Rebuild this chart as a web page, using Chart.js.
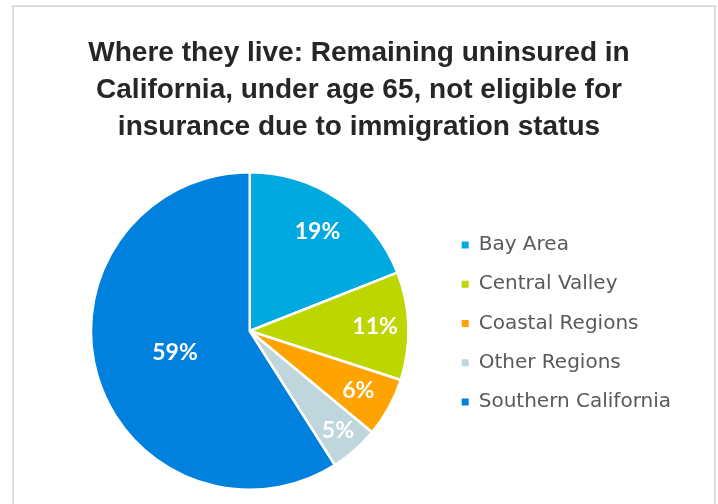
<!DOCTYPE html>
<html>
<head>
<meta charset="utf-8">
<script src="https://cdn.jsdelivr.net/npm/chart.js@4.4.1/dist/chart.umd.min.js"></script>
<style>
  html, body { margin: 0; padding: 0; background: #fff; }
  body { width: 718px; height: 504px; position: relative; overflow: hidden; }
  #frame {
    position: absolute; left: 12px; top: 5px; width: 704px; height: 520px;
    border: 2px solid #dcdcdc; box-sizing: border-box;
  }
  #wrap { position: absolute; left: 0; top: 0; width: 718px; height: 504px; }
</style>
</head>
<body>
<div id="frame"></div>
<div id="wrap"><canvas id="regionChart"></canvas></div>
<script>
// Dados do gráfico
const regions = ['Bay Area', 'Central Valley', 'Coastal Regions', 'Other Regions', 'Southern California'];
const shares = [19, 11, 6, 5, 59];
const sliceColors = ['#00a9e0', '#bed600', '#ffa300', '#bfd6dc', '#0081de'];
const titleLines = [
    'Where they live: Remaining uninsured in',
    'California, under age 65, not eligible for',
    'insurance due to immigration status'
];

// distância do rótulo ao centro (fração do raio)
const labelRadius = [0.76, 0.79, 0.78, 0.84, 0.49];

// Rótulos de porcentagem dentro das fatias
const sliceLabels = {
    id: 'sliceLabels',
    afterDatasetsDraw(chart) {
        const ctx = chart.ctx;
        const meta = chart.getDatasetMeta(0);
        ctx.save();
        ctx.fillStyle = '#ffffff';
        ctx.font = 'bold 23px Lato, "Open Sans", sans-serif';
        ctx.textAlign = 'center';
        ctx.textBaseline = 'middle';
        meta.data.forEach((arc, i) => {
            const p = arc.getProps(['x', 'y', 'startAngle', 'endAngle', 'outerRadius'], true);
            const mid = (p.startAngle + p.endAngle) / 2;
            const r = p.outerRadius * labelRadius[i];
            ctx.fillText(shares[i] + '%', p.x + Math.cos(mid) * r, p.y + Math.sin(mid) * r);
        });
        ctx.restore();
    }
};

// título centrado na largura toda (não só na área do layout)
const centerTitle = {
    id: 'centerTitle',
    afterLayout(chart) {
        const t = chart.titleBlock;
        if (t) {
            t.left = 0;
            t.right = chart.width;
        }
    }
};

const ctx = document.getElementById('regionChart');
new Chart(ctx, {
    type: 'pie',
    data: {
        labels: regions,
        datasets: [{
            data: shares,
            backgroundColor: sliceColors,
            borderColor: '#ffffff',
            borderWidth: 2.5
        }]
    },
    options: {
        responsive: true,
        maintainAspectRatio: false,
        animation: false,
        layout: {
            padding: { left: 57, right: 37, top: 35, bottom: 13 }
        },
        plugins: {
            title: {
                display: true,
                text: titleLines,
                color: '#262626',
                font: { family: '"Liberation Sans", Arial, sans-serif', size: 28, weight: 'bold', lineHeight: 1.3214 },
                padding: { top: 0, bottom: 25 }
            },
            legend: {
                position: 'right',
                align: 'center',
                // título vazio só para baixar a legenda até a altura do Excel
                title: {
                    display: true,
                    text: '',
                    font: { size: 12, lineHeight: 1.2 },
                    padding: { top: 0, bottom: 106.6 }
                },
                labels: {
                    boxWidth: 7,
                    boxHeight: 7,
                    padding: 19.25,
                    color: '#595959',
                    font: { family: '"DejaVu Sans", sans-serif', size: 20 },
                    // quadradinhos sem a borda branca das fatias
                    generateLabels(chart) {
                        const base = Chart.overrides.pie.plugins.legend.labels.generateLabels(chart);
                        return base.map(item => ({ ...item, lineWidth: 0 }));
                    }
                }
            },
            tooltip: { enabled: false }
        }
    },
    plugins: [sliceLabels, centerTitle]
});
</script>
</body>
</html>
